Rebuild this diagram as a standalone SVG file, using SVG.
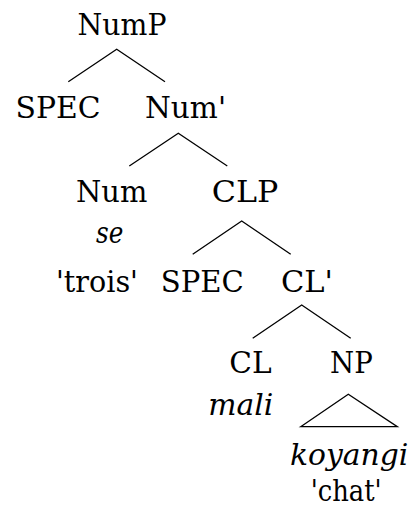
<svg xmlns="http://www.w3.org/2000/svg" width="415" height="507" viewBox="0 0 415 507">
<style>
.t{font-family:"DejaVu Serif","Liberation Serif",serif;font-size:30px;fill:#000;text-anchor:middle}
.it{font-style:italic}
.e{stroke:#000;stroke-width:1.3;fill:none}
</style>
<rect width="415" height="507" fill="#fff"/>
<g id="connectors">
<path class="e" d="M68.3,81.7 L116.7,49.3 L165,81.7"/>
<path class="e" d="M129.3,166 L178.3,133.3 L227.3,166"/>
<path class="e" d="M192.7,254.3 L241.7,221 L290.7,254.3"/>
<path class="e" d="M252.7,338.3 L301.7,305 L350.7,338.3"/>
<path class="e" d="M300.7,426.7 L348.3,394.3 L397.3,426.7 Z"/>
</g>
<g id="NumP"><text class="t" x="122" y="34.5" textLength="89" lengthAdjust="spacingAndGlyphs">NumP</text></g>
<g id="SPEC1"><text class="t" x="58" y="117.5" textLength="85" lengthAdjust="spacingAndGlyphs">SPEC</text></g>
<g id="NumBar"><text class="t" x="185.5" y="117.5" textLength="81" lengthAdjust="spacingAndGlyphs">Num'</text></g>
<g id="Num"><text class="t" x="111.7" y="202" textLength="71.3" lengthAdjust="spacingAndGlyphs">Num</text><text class="t it" x="109.7" y="243" textLength="27.3" lengthAdjust="spacingAndGlyphs">se</text><text class="t" x="97" y="292" textLength="82" lengthAdjust="spacingAndGlyphs">'trois'</text></g>
<g id="CLP"><text class="t" x="245" y="202" textLength="66.6" lengthAdjust="spacingAndGlyphs">CLP</text></g>
<g id="SPEC2"><text class="t" x="202.3" y="292" textLength="83" lengthAdjust="spacingAndGlyphs">SPEC</text></g>
<g id="CLBar"><text class="t" x="307" y="292" textLength="52" lengthAdjust="spacingAndGlyphs">CL'</text></g>
<g id="CL"><text class="t" x="250.5" y="373" textLength="42.4" lengthAdjust="spacingAndGlyphs">CL</text><text class="t it" x="240.8" y="415" textLength="65" lengthAdjust="spacingAndGlyphs">mali</text></g>
<g id="NP"><text class="t" x="351.4" y="373" textLength="42.7" lengthAdjust="spacingAndGlyphs">NP</text><text class="t it" x="349.2" y="465" textLength="118.3" lengthAdjust="spacingAndGlyphs">koyangi</text><text class="t" x="346.2" y="501" textLength="71" lengthAdjust="spacingAndGlyphs">'chat'</text></g>
</svg>
